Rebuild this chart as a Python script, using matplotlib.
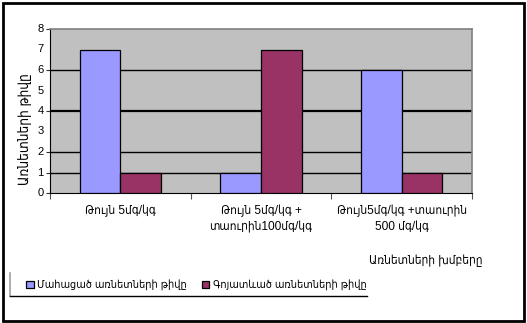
import matplotlib.pyplot as plt
import matplotlib.patches as mpatches
from matplotlib.lines import Line2D
from matplotlib.font_manager import FontProperties
import numpy as np

groups = ["Թույն 5մգ/կգ",
          "Թույն 5մգ/կգ +\nտաուրին100մգ/կգ",
          "Թույն5մգ/կգ +տաուրին\n500 մգ/կգ"]
died = [7, 1, 6]
survived = [1, 7, 1]
series_names = ["Մահացած առնետների թիվը", "Գոյատևած առնետների թիվը"]
colors = ["#9999FF", "#993366"]

plt.rcParams['font.family'] = ['Liberation Sans', 'DejaVu Sans']

W, H = 527, 323
fig = plt.figure(figsize=(W / 100, H / 100), dpi=100)
ax = fig.add_axes([50 / W, 1 - 193 / H, 422 / W, 164 / H])
ax.set_facecolor("#C0C0C0")

x = np.arange(len(groups))
bw = 0.288
ax.bar(x - bw / 2, died, bw, color=colors[0], edgecolor="black", linewidth=0.9, zorder=3)
ax.bar(x + bw / 2, survived, bw, color=colors[1], edgecolor="black", linewidth=0.9, zorder=3)

ax.set_xlim(-0.5, 2.5)
ax.set_ylim(0, 8)

# gridlines
for g in [1, 2, 4, 6]:
    ax.axhline(g, color="black", linewidth=1.6 if g == 4 else 1.0, zorder=1)

ax.set_yticks([0, 1, 2, 4, 6, 8])
ax.set_yticklabels([])
ax.tick_params(axis="y", length=3, width=0.8, color="#333333")
for v in range(9):
    ax.text(-0.545, v, str(v), ha="right", va="center", fontsize=8)

ax.set_xticks([-0.5, 0.5, 1.5, 2.5])
ax.set_xticklabels([])
ax.tick_params(axis="x", length=4, width=0.8, color="#555555")

for i, g in enumerate(groups):
    fig.text((50 + 140.7 * (i + 0.5)) / W, 1 - 205 / H, g, ha="center", va="top",
             fontsize=8.6, linespacing=1.4, fontstretch="condensed")

for side in ["top", "right"]:
    ax.spines[side].set_color("#808080")
    ax.spines[side].set_linewidth(1.2)
ax.spines["left"].set_color("black")
ax.spines["bottom"].set_color("black")

fig.text(25 / W, 1 - 129 / H, "Առնետների թիվը", rotation=90, ha="center", va="center",
         fontsize=9.8, fontstretch="condensed")
fig.text(426 / W, 1 - 261 / H, "Առնետների խմբերը", ha="center", va="center",
         fontsize=8.6, fontstretch="condensed")

handles = [mpatches.Patch(facecolor=c, edgecolor="black", linewidth=0.9) for c in colors]
fig.legend(handles, series_names, loc="center left", bbox_to_anchor=(26 / W, 1 - 285 / H),
           ncol=2, frameon=False, prop=FontProperties(size=7.8, stretch="condensed"),
           handlelength=0.7, handleheight=0.7,
           handletextpad=0.3, columnspacing=1.4, borderaxespad=0, borderpad=0)
fig.add_artist(Line2D([10 / W, 10 / W], [1 - 273 / H, 1 - 296 / H], color="#A0A0A0", lw=1.2))
fig.add_artist(Line2D([10 / W, 367 / W], [1 - 296 / H, 1 - 296 / H], color="black", lw=1.0))

# outer frame
fig.add_artist(mpatches.Rectangle((3 / W, 2 / H), 521 / W, 318 / H, transform=fig.transFigure,
                                  fill=False, edgecolor="black", linewidth=2))

fig.savefig("out.png", dpi=100)
